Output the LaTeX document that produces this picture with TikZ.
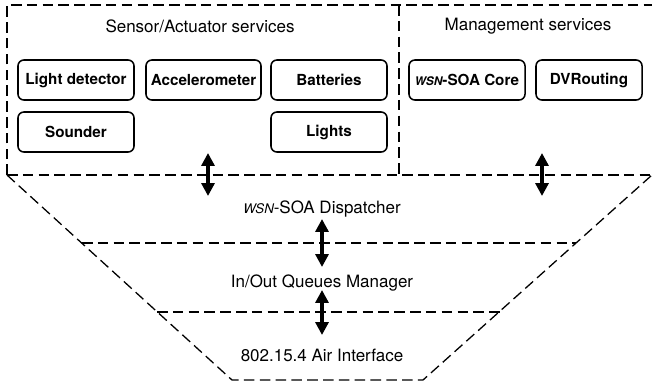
\documentclass[tikz,border=0pt]{standalone}
\usepackage{fontspec}
\setmainfont{TeX Gyre Heros}
\usetikzlibrary{arrows.meta}

\newcommand{\wsn}{{\fontsize{0.78em}{1em}\selectfont\itshape WSN}}

\begin{document}
\begin{tikzpicture}[x=0.03cm,y=-0.03cm,
    layerline/.style={line width=1.1pt, dash pattern=on 9pt off 4.5pt},
    svcbox/.style={draw, rounded corners=5pt, line width=1.3pt, minimum width=3.48cm, minimum height=1.2cm,
        font={\fontsize{13}{15}\selectfont\bfseries}},
    lbl/.style={font={\fontsize{14.5}{17}\selectfont}},
    updown/.style={line width=3.2pt, {Triangle[width=11pt,length=11pt]}-{Triangle[width=11pt,length=11pt]}}]

    \useasboundingbox (0,0) rectangle (655,385);

    % service boxes
    \draw[layerline] (7,175) -- (7,5) -- (652,5);
    \draw[layerline] (399,5) -- (399,175);
    \draw[layerline] (7,175) -- (652,175);

    % stack
    \draw[layerline] (7,175) -- (232,380) -- (423,380) -- (652,175);
    \draw[layerline] (82,243) -- (576,243);
    \draw[layerline] (157,312) -- (500,312);

    \node[lbl] (sensT) at (200,26) {Sensor/Actuator services};
    \node[lbl] (mgmtT) at (528,26) {Management services};

    \node[svcbox] (light) at (76,80) {Light detector};
    \node[svcbox, minimum width=3.45cm] (accel) at (203.5,80) {Accelerometer};
    \node[svcbox] (batt) at (329,80) {Batteries};
    \node[svcbox] (sound) at (76,132) {Sounder};
    \node[svcbox] (lights) at (329,132) {Lights};
    \node[svcbox] (core) at (467,80) {\wsn-SOA Core};
    \node[svcbox, minimum width=3.18cm] (dvr) at (589,80) {DVRouting};

    \node[lbl] (disp) at (322,209) {\wsn-SOA Dispatcher};
    \node[lbl] (queue) at (322,283) {In/Out Queues Manager};
    \node[lbl] (air) at (322,355) {802.15.4 Air Interface};

    \coordinate (sensA) at (208,153);
    \coordinate (sensB) at (208,196);
    \coordinate (mgmtA) at (542,153);
    \coordinate (mgmtB) at (542,196);
    \coordinate (dispA) at (322,219);
    \coordinate (dispB) at (322,267);
    \coordinate (queueA) at (322,290);
    \coordinate (queueB) at (322,335);

    \draw[updown] (sensA) -- (sensB);
    \draw[updown] (mgmtA) -- (mgmtB);
    \draw[updown] (dispA) -- (dispB);
    \draw[updown] (queueA) -- (queueB);
\end{tikzpicture}
\end{document}
